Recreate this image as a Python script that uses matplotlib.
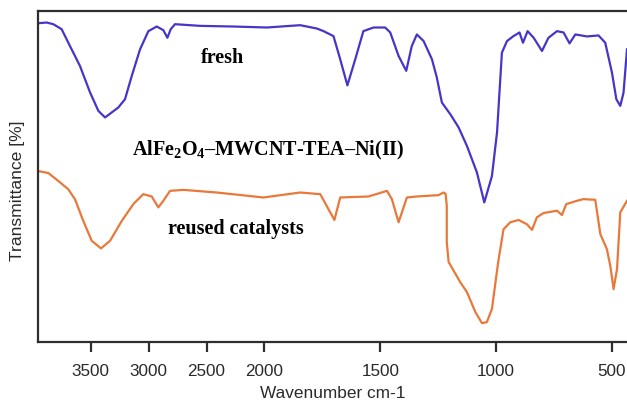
import numpy as np
import matplotlib
matplotlib.use("Agg")
import matplotlib.pyplot as plt

# ── FTIR spectra (wavenumber cm-1, transmittance a.u.) ──
fresh_wn = [3955, 3880, 3823, 3751, 3679, 3593, 3506, 3434, 3376, 3319, 3262,
            3204, 3146, 3074, 3002, 2930, 2873, 2838, 2809, 2772, 2556, 2270,
            1990, 1846, 1774, 1745, 1702, 1673, 1642, 1608, 1573, 1529, 1479,
            1457, 1421, 1388, 1364, 1342, 1313, 1277, 1256, 1234, 1198, 1162,
            1126, 1083, 1051, 1018, 996, 975, 953, 925, 899, 884, 864, 838,
            802, 774, 737, 709, 683, 658, 608, 558, 529, 500, 481, 464, 450, 435]
fresh_t = [96.4, 96.6, 96.1, 94.6, 89.5, 83.5, 75.5, 69.9, 67.9, 69.4, 70.9,
           73.4, 80.4, 88.5, 94.0, 95.4, 94.3, 92.0, 94.6, 96.1, 95.6, 95.4,
           95.1, 95.8, 94.8, 94.0, 92.5, 85.5, 77.6, 85.5, 94.0, 95.1, 95.1,
           93.6, 86.5, 82.0, 89.5, 93.0, 91.0, 85.5, 80.0, 72.4, 68.9, 64.9,
           59.3, 51.3, 42.2, 50.2, 63.4, 87.5, 91.0, 92.5, 93.6, 90.5, 94.0, 92.0,
           88.0, 92.0, 94.0, 93.6, 90.3, 93.0, 92.4, 92.7, 90.5, 81.5, 73.4, 71.4, 75.4, 88.5]

reused_wn = [3955, 3866, 3780, 3694, 3636, 3564, 3491, 3411, 3333, 3232, 3132,
             3046, 2973, 2916, 2873, 2815, 2700, 2411, 2009, 1846, 1759, 1724,
             1698, 1673, 1551, 1471, 1450, 1421, 1385, 1342, 1249, 1227, 1218,
             1213, 1213, 1205, 1155, 1126, 1090, 1061, 1040, 1018, 991, 968, 939, 903,
             867, 845, 824, 795, 737, 716, 697, 651, 623, 572, 550, 522, 507,
             493, 478, 464, 435]
reused_t = [51.7, 51.1, 48.7, 46.2, 43.2, 36.6, 30.6, 28.3, 30.6, 36.6, 41.7,
            44.7, 44.0, 40.7, 42.7, 45.7, 46.0, 45.2, 43.7, 45.2, 44.7, 40.2,
            36.9, 43.7, 44.0, 45.7, 43.2, 36.2, 43.7, 44.0, 44.4, 45.2, 44.8,
            41.2, 30.2, 24.2, 18.1, 15.1, 9.1, 5.7, 6.0, 10.0, 24.2, 34.1, 36.2, 36.9,
            35.6, 33.9, 37.7, 39.0, 39.7, 38.4, 41.7, 42.7, 43.2, 43.0, 32.6, 28.1, 23.0,
            16.0, 22.1, 39.2, 42.7]

xticks = [3500, 3000, 2500, 2000, 1500, 1000, 500]

BLUE = "#4636c8"
ORANGE = "#e8793a"
SPINE = "#2e2e2e"


# FTIR style axis: region above 2000 cm-1 drawn at half scale
def fwd(w):
    w = np.asarray(w, dtype=float)
    return np.where(w > 2000, 2000 + (w - 2000) / 2, w)


def inv(u):
    u = np.asarray(u, dtype=float)
    return np.where(u > 2000, 2000 + (u - 2000) * 2, u)


plt.rcParams["font.family"] = ["Liberation Sans", "DejaVu Sans"]
plt.rcParams["mathtext.fontset"] = "custom"
plt.rcParams["mathtext.bf"] = "Liberation Serif:bold"
plt.rcParams["mathtext.rm"] = "Liberation Serif:bold"
plt.rcParams["mathtext.default"] = "bf"

fig = plt.figure(figsize=(6.27, 4.02), dpi=100)
ax = fig.add_axes([0.0606, 0.1468, 0.9394, 0.8226])

ax.plot(fresh_wn, fresh_t, color=BLUE, lw=1.6, solid_joinstyle="round")
ax.plot(reused_wn, reused_t, color=ORANGE, lw=1.6, solid_joinstyle="round")

ax.set_xscale("function", functions=(fwd, inv))
ax.set_xlim(3955, 435)
ax.set_ylim(0, 100)
ax.set_xticks(xticks)
ax.set_xticklabels([str(t) for t in xticks])
ax.set_yticks([])
ax.minorticks_off()

ax.tick_params(axis="x", direction="out", length=7, width=1.6, color=SPINE,
               labelsize=12.3, labelcolor="#2a2a2a", pad=8)
for side in ["left", "bottom", "top"]:
    ax.spines[side].set_color(SPINE)
    ax.spines[side].set_linewidth(1.6)
ax.spines["right"].set_visible(False)

ax.set_xlabel("Wavenumber cm-1", fontsize=12.4, color="#2a2a2a", labelpad=5)
ax.set_ylabel("Transmittance [%]", fontsize=12.6, color="#2a2a2a")
ax.yaxis.set_label_coords(-0.022, 0.46)

serif = dict(family="Liberation Serif", weight="bold", fontsize=14.5,
             ha="center", va="center", color="black")
ax.text(2365, 86.1, "fresh", **serif)
ax.text(1984, 58.3, r"AlFe$_2$O$_4$–MWCNT-TEA–Ni(II)", **serif)
ax.text(2245, 34.4, "reused catalysts", **serif)

fig.savefig("out.png", dpi=100)
